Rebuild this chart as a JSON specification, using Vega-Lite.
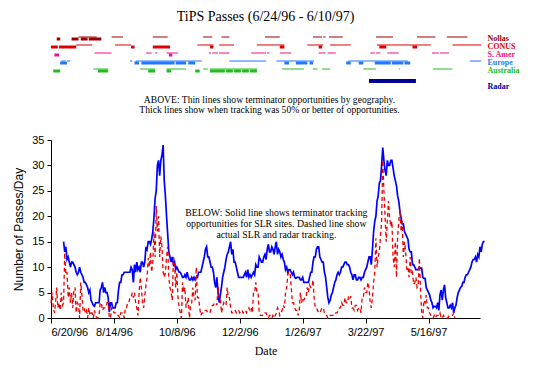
{
"$schema":"https://vega.github.io/schema/vega-lite/v6.json",
"background":"white",
"padding":{"left":12,"top":10,"right":4,"bottom":4},
"bounds":"flush",
"spacing":38,
"resolve":{"scale":{"x":"independent","y":"independent","color":"independent"}},
"config":{
 "view":{"stroke":null},
 "axis":{"grid":false,"domainColor":"#000","tickColor":"#000","titleColor":"#000","labelFont":"Liberation Sans","labelFontSize":11,"titleFont":"Liberation Sans","titleFontSize":12,"titleFontWeight":"normal","domainWidth":1,"tickWidth":1},
 "axisX":{"tickSize":5,"labelPadding":3,"titleFont":"Liberation Serif","titleFontSize":12,"titlePadding":8,"labelColor":"#000"},
 "axisY":{"tickSize":4,"labelPadding":3,"titlePadding":6}
},
"datasets":{
"passes":[
{"row":"Nollas","kind":"thin","start":"1996-07-14","end":"1996-07-30"},
{"row":"Nollas","kind":"thick","start":"1996-06-25","end":"1996-06-28"},
{"row":"Nollas","kind":"thick","start":"1996-07-08","end":"1996-07-14"},
{"row":"Nollas","kind":"thick","start":"1996-07-16","end":"1996-07-22"},
{"row":"Nollas","kind":"thick","start":"1996-07-23","end":"1996-08-03"},
{"row":"Nollas","kind":"thin","start":"1996-08-12","end":"1996-08-22"},
{"row":"Nollas","kind":"thin","start":"1996-09-17","end":"1996-09-30"},
{"row":"Nollas","kind":"thin","start":"1996-10-31","end":"1996-11-08"},
{"row":"Nollas","kind":"thin","start":"1996-11-16","end":"1996-11-23"},
{"row":"Nollas","kind":"thin","start":"1996-12-24","end":"1997-01-06"},
{"row":"Nollas","kind":"thin","start":"1997-02-04","end":"1997-02-12"},
{"row":"Nollas","kind":"thin","start":"1997-02-13","end":"1997-02-15"},
{"row":"Nollas","kind":"thin","start":"1997-02-18","end":"1997-03-02"},
{"row":"Nollas","kind":"thin","start":"1997-03-31","end":"1997-04-15"},
{"row":"Nollas","kind":"thin","start":"1997-05-06","end":"1997-05-22"},
{"row":"Nollas","kind":"thin","start":"1997-06-01","end":"1997-06-19"},
{"row":"CONUS","kind":"thick","start":"1996-06-20","end":"1996-06-26"},
{"row":"CONUS","kind":"thick","start":"1996-06-27","end":"1996-07-12"},
{"row":"CONUS","kind":"thin","start":"1996-07-12","end":"1996-07-26"},
{"row":"CONUS","kind":"thin","start":"1996-08-15","end":"1996-08-29"},
{"row":"CONUS","kind":"thick","start":"1996-08-29","end":"1996-09-01"},
{"row":"CONUS","kind":"thick","start":"1996-09-17","end":"1996-10-02"},
{"row":"CONUS","kind":"thin","start":"1996-10-26","end":"1996-11-09"},
{"row":"CONUS","kind":"thick","start":"1996-11-06","end":"1996-11-09"},
{"row":"CONUS","kind":"thin","start":"1996-11-14","end":"1996-11-27"},
{"row":"CONUS","kind":"thin","start":"1996-12-17","end":"1997-01-10"},
{"row":"CONUS","kind":"thick","start":"1997-01-06","end":"1997-01-10"},
{"row":"CONUS","kind":"thin","start":"1997-01-30","end":"1997-02-13"},
{"row":"CONUS","kind":"thick","start":"1997-02-09","end":"1997-02-12"},
{"row":"CONUS","kind":"thin","start":"1997-02-19","end":"1997-03-09"},
{"row":"CONUS","kind":"thin","start":"1997-04-01","end":"1997-05-18"},
{"row":"CONUS","kind":"thick","start":"1997-04-03","end":"1997-04-09"},
{"row":"CONUS","kind":"thick","start":"1997-05-02","end":"1997-05-06"},
{"row":"CONUS","kind":"thin","start":"1997-06-06","end":"1997-07-01"},
{"row":"S. Amer","kind":"thick","start":"1996-06-23","end":"1996-06-27"},
{"row":"S. Amer","kind":"thin","start":"1996-07-28","end":"1996-08-12"},
{"row":"S. Amer","kind":"thin","start":"1996-09-11","end":"1996-09-16"},
{"row":"S. Amer","kind":"thin","start":"1996-09-19","end":"1996-09-21"},
{"row":"S. Amer","kind":"thin","start":"1996-09-29","end":"1996-10-09"},
{"row":"S. Amer","kind":"thick","start":"1996-10-01","end":"1996-10-04"},
{"row":"S. Amer","kind":"thin","start":"1996-11-05","end":"1996-11-07"},
{"row":"S. Amer","kind":"thin","start":"1996-11-08","end":"1996-11-13"},
{"row":"S. Amer","kind":"thin","start":"1996-11-14","end":"1996-11-23"},
{"row":"S. Amer","kind":"thin","start":"1996-12-12","end":"1996-12-25"},
{"row":"S. Amer","kind":"thin","start":"1996-12-26","end":"1996-12-28"},
{"row":"S. Amer","kind":"thin","start":"1997-01-06","end":"1997-01-16"},
{"row":"S. Amer","kind":"thin","start":"1997-02-09","end":"1997-02-15"},
{"row":"S. Amer","kind":"thin","start":"1997-02-17","end":"1997-02-24"},
{"row":"S. Amer","kind":"thin","start":"1997-03-26","end":"1997-03-30"},
{"row":"S. Amer","kind":"thin","start":"1997-03-31","end":"1997-04-04"},
{"row":"S. Amer","kind":"thin","start":"1997-04-10","end":"1997-04-20"},
{"row":"S. Amer","kind":"thin","start":"1997-05-19","end":"1997-05-25"},
{"row":"S. Amer","kind":"thin","start":"1997-05-26","end":"1997-06-03"},
{"row":"Europe","kind":"thin","start":"1996-06-29","end":"1996-07-03"},
{"row":"Europe","kind":"thin","start":"1996-07-04","end":"1996-07-07"},
{"row":"Europe","kind":"thin","start":"1996-08-28","end":"1996-08-30"},
{"row":"Europe","kind":"thin","start":"1996-09-02","end":"1996-10-30"},
{"row":"Europe","kind":"thin","start":"1996-11-23","end":"1996-12-25"},
{"row":"Europe","kind":"thin","start":"1997-01-03","end":"1997-02-05"},
{"row":"Europe","kind":"thin","start":"1997-03-07","end":"1997-04-28"},
{"row":"Europe","kind":"thin","start":"1997-06-21","end":"1997-07-01"},
{"row":"Europe","kind":"thick","start":"1996-06-28","end":"1996-07-04"},
{"row":"Europe","kind":"thick","start":"1996-09-01","end":"1996-09-05"},
{"row":"Europe","kind":"thick","start":"1996-09-07","end":"1996-10-06"},
{"row":"Europe","kind":"thick","start":"1996-10-07","end":"1996-10-16"},
{"row":"Europe","kind":"thick","start":"1996-10-18","end":"1996-10-24"},
{"row":"Europe","kind":"thick","start":"1997-01-10","end":"1997-01-14"},
{"row":"Europe","kind":"thick","start":"1997-01-20","end":"1997-01-30"},
{"row":"Europe","kind":"thick","start":"1997-02-01","end":"1997-02-04"},
{"row":"Europe","kind":"thick","start":"1997-03-05","end":"1997-03-09"},
{"row":"Europe","kind":"thick","start":"1997-03-16","end":"1997-03-20"},
{"row":"Europe","kind":"thick","start":"1997-03-30","end":"1997-04-13"},
{"row":"Europe","kind":"thick","start":"1997-04-14","end":"1997-04-24"},
{"row":"Europe","kind":"thick","start":"1997-04-25","end":"1997-04-30"},
{"row":"Australia","kind":"thick","start":"1996-06-22","end":"1996-06-28"},
{"row":"Australia","kind":"thin","start":"1996-07-27","end":"1996-08-09"},
{"row":"Australia","kind":"thick","start":"1996-07-31","end":"1996-08-09"},
{"row":"Australia","kind":"thin","start":"1996-09-06","end":"1996-09-19"},
{"row":"Australia","kind":"thick","start":"1996-09-13","end":"1996-09-19"},
{"row":"Australia","kind":"thin","start":"1996-09-29","end":"1996-10-16"},
{"row":"Australia","kind":"thick","start":"1996-09-29","end":"1996-10-03"},
{"row":"Australia","kind":"thick","start":"1996-10-24","end":"1996-10-28"},
{"row":"Australia","kind":"thin","start":"1996-10-31","end":"1996-11-04"},
{"row":"Australia","kind":"thin","start":"1996-11-06","end":"1996-12-17"},
{"row":"Australia","kind":"thick","start":"1996-11-06","end":"1996-11-19"},
{"row":"Australia","kind":"thick","start":"1996-11-20","end":"1996-11-26"},
{"row":"Australia","kind":"thick","start":"1996-11-27","end":"1996-12-03"},
{"row":"Australia","kind":"thick","start":"1996-12-04","end":"1996-12-10"},
{"row":"Australia","kind":"thick","start":"1996-12-11","end":"1996-12-17"},
{"row":"Australia","kind":"thin","start":"1997-01-08","end":"1997-01-27"},
{"row":"Australia","kind":"thin","start":"1997-02-04","end":"1997-02-08"},
{"row":"Australia","kind":"thin","start":"1997-02-12","end":"1997-02-19"},
{"row":"Australia","kind":"thin","start":"1997-03-20","end":"1997-03-31"},
{"row":"Australia","kind":"thin","start":"1997-04-20","end":"1997-04-21"},
{"row":"Australia","kind":"thin","start":"1997-05-20","end":"1997-06-06"},
{"row":"Radar","kind":"thick","start":"1997-03-25","end":"1997-05-05"}
],
"daily":[
{"date":"1996-06-20","trk":3},{"date":"1996-06-21","trk":5},{"date":"1996-06-22","trk":2},{"date":"1996-06-23","trk":1},{"date":"1996-06-24","trk":3},{"date":"1996-06-25","trk":6},{"date":"1996-06-26","trk":2},{"date":"1996-06-27","trk":3},{"date":"1996-06-28","trk":1.5},{"date":"1996-06-29","trk":5},{"date":"1996-06-30","trk":2.5},
{"date":"1996-07-01","opp":15,"trk":3},{"date":"1996-07-02","opp":13,"trk":12.8},{"date":"1996-07-03","opp":14,"trk":8.5},{"date":"1996-07-04","opp":11.5,"trk":9},{"date":"1996-07-05","opp":12,"trk":4},{"date":"1996-07-06","opp":11,"trk":6},{"date":"1996-07-07","opp":10,"trk":3},{"date":"1996-07-08","opp":11,"trk":5},{"date":"1996-07-09","opp":11,"trk":2},{"date":"1996-07-10","opp":10.5,"trk":5.5},{"date":"1996-07-11","opp":10,"trk":6},{"date":"1996-07-12","opp":9,"trk":1},{"date":"1996-07-13","opp":8.5,"trk":3},{"date":"1996-07-14","opp":9,"trk":2.5},{"date":"1996-07-15","opp":10,"trk":0},{"date":"1996-07-16","opp":9,"trk":7},{"date":"1996-07-17","opp":8.5,"trk":4.5},{"date":"1996-07-18","opp":8,"trk":1.5},{"date":"1996-07-19","opp":7,"trk":2},{"date":"1996-07-20","opp":7,"trk":1},{"date":"1996-07-21","opp":6.5,"trk":1.5},{"date":"1996-07-22","opp":6,"trk":0},{"date":"1996-07-23","opp":5,"trk":2},{"date":"1996-07-24","opp":5.5,"trk":0.5},{"date":"1996-07-25","opp":3.5,"trk":1},{"date":"1996-07-26","opp":3,"trk":1},{"date":"1996-07-27","opp":2.5,"trk":0},{"date":"1996-07-28","opp":2.3,"trk":1.5},{"date":"1996-07-29","opp":3,"trk":0.5},{"date":"1996-07-30","opp":3,"trk":0},{"date":"1996-07-31","opp":3,"trk":0},
{"date":"1996-08-01","opp":3,"trk":0.5},{"date":"1996-08-02","opp":5.5,"trk":3},{"date":"1996-08-03","opp":6,"trk":3},{"date":"1996-08-04","opp":7,"trk":1.5},{"date":"1996-08-05","opp":5,"trk":2},{"date":"1996-08-06","opp":6,"trk":2},{"date":"1996-08-07","opp":5,"trk":2},{"date":"1996-08-08","opp":5,"trk":3},{"date":"1996-08-09","opp":4,"trk":3},{"date":"1996-08-10","opp":1.2,"trk":0},{"date":"1996-08-11","opp":3,"trk":0},{"date":"1996-08-12","opp":3,"trk":2},{"date":"1996-08-13","opp":2,"trk":2},{"date":"1996-08-14","opp":2,"trk":1},{"date":"1996-08-15","opp":2,"trk":1},{"date":"1996-08-16","opp":3,"trk":1},{"date":"1996-08-17","opp":3,"trk":0.5},{"date":"1996-08-18","opp":5.5,"trk":0.5},{"date":"1996-08-19","opp":7,"trk":0},{"date":"1996-08-20","opp":7,"trk":1},{"date":"1996-08-21","opp":8.5,"trk":1},{"date":"1996-08-22","opp":8.5,"trk":1},{"date":"1996-08-23","opp":9,"trk":0},{"date":"1996-08-24","opp":9,"trk":2},{"date":"1996-08-25","opp":9,"trk":2},{"date":"1996-08-26","opp":9,"trk":3},{"date":"1996-08-27","opp":9,"trk":3},{"date":"1996-08-28","opp":9,"trk":4},{"date":"1996-08-29","opp":10,"trk":4},{"date":"1996-08-30","opp":9.5,"trk":5},{"date":"1996-08-31","opp":7,"trk":4},
{"date":"1996-09-01","opp":10.5,"trk":5},{"date":"1996-09-02","opp":9,"trk":3},{"date":"1996-09-03","opp":11,"trk":2},{"date":"1996-09-04","opp":9.5,"trk":0.5},{"date":"1996-09-05","opp":10,"trk":5},{"date":"1996-09-06","opp":9,"trk":8},{"date":"1996-09-07","opp":11,"trk":6},{"date":"1996-09-08","opp":11,"trk":3},{"date":"1996-09-09","opp":10,"trk":2},{"date":"1996-09-10","opp":11,"trk":4.5},{"date":"1996-09-11","opp":14,"trk":6.5},{"date":"1996-09-12","opp":13.5,"trk":8},{"date":"1996-09-13","opp":15,"trk":11.8},{"date":"1996-09-14","opp":15,"trk":10},{"date":"1996-09-15","opp":14.5,"trk":13},{"date":"1996-09-16","opp":15.5,"trk":9},{"date":"1996-09-17","opp":17,"trk":11},{"date":"1996-09-18","opp":19.7,"trk":17},{"date":"1996-09-19","opp":23.5,"trk":12},{"date":"1996-09-20","opp":25,"trk":22},{"date":"1996-09-21","opp":30,"trk":17},{"date":"1996-09-22","opp":31,"trk":20},{"date":"1996-09-23","opp":28,"trk":12},{"date":"1996-09-24","opp":31,"trk":16},{"date":"1996-09-25","opp":32,"trk":14},{"date":"1996-09-26","opp":34,"trk":9},{"date":"1996-09-27","opp":27,"trk":8},{"date":"1996-09-28","opp":24,"trk":9},{"date":"1996-09-29","opp":20,"trk":12},{"date":"1996-09-30","opp":16.5,"trk":14},
{"date":"1996-10-01","opp":13,"trk":8},{"date":"1996-10-02","opp":12,"trk":6},{"date":"1996-10-03","opp":11,"trk":5},{"date":"1996-10-04","opp":12,"trk":3.5},{"date":"1996-10-05","opp":10.5,"trk":12},{"date":"1996-10-06","opp":11,"trk":11},{"date":"1996-10-07","opp":9.5,"trk":6},{"date":"1996-10-08","opp":10,"trk":9},{"date":"1996-10-09","opp":9.5,"trk":4},{"date":"1996-10-10","opp":9,"trk":2},{"date":"1996-10-11","opp":9,"trk":1},{"date":"1996-10-12","opp":8.5,"trk":0},{"date":"1996-10-13","opp":8,"trk":7},{"date":"1996-10-14","opp":8,"trk":5},{"date":"1996-10-15","opp":8.5,"trk":6},{"date":"1996-10-16","opp":8,"trk":2},{"date":"1996-10-17","opp":9,"trk":3},{"date":"1996-10-18","opp":8,"trk":4},{"date":"1996-10-19","opp":7.5,"trk":0},{"date":"1996-10-20","opp":7.5,"trk":2.5},{"date":"1996-10-21","opp":8,"trk":3},{"date":"1996-10-22","opp":7.5,"trk":6},{"date":"1996-10-23","opp":8,"trk":4},{"date":"1996-10-24","opp":7.5,"trk":3.5},{"date":"1996-10-25","opp":8,"trk":10},{"date":"1996-10-26","opp":8,"trk":4},{"date":"1996-10-27","opp":9,"trk":4},{"date":"1996-10-28","opp":9,"trk":2},{"date":"1996-10-29","opp":9,"trk":0.5},{"date":"1996-10-30","opp":10,"trk":1},{"date":"1996-10-31","opp":11,"trk":1},
{"date":"1996-11-01","opp":12,"trk":1.5},{"date":"1996-11-02","opp":13.5,"trk":1.5},{"date":"1996-11-03","opp":14,"trk":1.5},{"date":"1996-11-04","opp":12,"trk":1},{"date":"1996-11-05","opp":12,"trk":1},{"date":"1996-11-06","opp":11,"trk":1},{"date":"1996-11-07","opp":10,"trk":2},{"date":"1996-11-08","opp":10,"trk":2.5},{"date":"1996-11-09","opp":9,"trk":2.5},{"date":"1996-11-10","opp":7,"trk":3},{"date":"1996-11-11","opp":6,"trk":3},{"date":"1996-11-12","opp":8,"trk":2.5},{"date":"1996-11-13","opp":5,"trk":6.2},{"date":"1996-11-14","opp":3,"trk":4},{"date":"1996-11-15","opp":4.5,"trk":4},{"date":"1996-11-16","opp":6,"trk":1},{"date":"1996-11-17","opp":8,"trk":2},{"date":"1996-11-18","opp":9,"trk":3},{"date":"1996-11-19","opp":10,"trk":2.5},{"date":"1996-11-20","opp":11.5,"trk":2.5},{"date":"1996-11-21","opp":12.5,"trk":6},{"date":"1996-11-22","opp":13,"trk":4},{"date":"1996-11-23","opp":14,"trk":4},{"date":"1996-11-24","opp":15,"trk":2},{"date":"1996-11-25","opp":12.5,"trk":1},{"date":"1996-11-26","opp":13.5,"trk":1},{"date":"1996-11-27","opp":11,"trk":1.5},{"date":"1996-11-28","opp":11,"trk":1.5},{"date":"1996-11-29","opp":10,"trk":1},{"date":"1996-11-30","opp":9,"trk":1.5},
{"date":"1996-12-01","opp":8,"trk":1.5},{"date":"1996-12-02","opp":8,"trk":1},{"date":"1996-12-03","opp":8,"trk":1.5},{"date":"1996-12-04","opp":8,"trk":1.5},{"date":"1996-12-05","opp":8,"trk":1},{"date":"1996-12-06","opp":8.5,"trk":1.5},{"date":"1996-12-07","opp":9,"trk":1.5},{"date":"1996-12-08","opp":8,"trk":1},{"date":"1996-12-09","opp":9.5,"trk":1.5},{"date":"1996-12-10","opp":8,"trk":2},{"date":"1996-12-11","opp":8.5,"trk":1.5},{"date":"1996-12-12","opp":8,"trk":2},{"date":"1996-12-13","opp":8.5,"trk":1},{"date":"1996-12-14","opp":9,"trk":5},{"date":"1996-12-15","opp":8.5,"trk":5},{"date":"1996-12-16","opp":10.5,"trk":7},{"date":"1996-12-17","opp":10,"trk":5},{"date":"1996-12-18","opp":10,"trk":5},{"date":"1996-12-19","opp":12,"trk":1},{"date":"1996-12-20","opp":11.5,"trk":0.5},{"date":"1996-12-21","opp":11,"trk":0.5},{"date":"1996-12-22","opp":11,"trk":0.5},{"date":"1996-12-23","opp":12,"trk":0.5},{"date":"1996-12-24","opp":12.5,"trk":1},{"date":"1996-12-25","opp":11.5,"trk":1},{"date":"1996-12-26","opp":13.5,"trk":0.5},{"date":"1996-12-27","opp":14.5,"trk":0},{"date":"1996-12-28","opp":13,"trk":0.5},{"date":"1996-12-29","opp":13,"trk":0.5},{"date":"1996-12-30","opp":14,"trk":0},{"date":"1996-12-31","opp":13.5,"trk":0.5},
{"date":"1997-01-01","opp":12.5,"trk":0},{"date":"1997-01-02","opp":14,"trk":0.5},{"date":"1997-01-03","opp":15,"trk":1},{"date":"1997-01-04","opp":12.5,"trk":2},{"date":"1997-01-05","opp":13.5,"trk":1.5},{"date":"1997-01-06","opp":13,"trk":0.5},{"date":"1997-01-07","opp":12,"trk":1},{"date":"1997-01-08","opp":12.5,"trk":1.5},{"date":"1997-01-09","opp":11.5,"trk":2.5},{"date":"1997-01-10","opp":11,"trk":2},{"date":"1997-01-11","opp":9.5,"trk":5},{"date":"1997-01-12","opp":10,"trk":6},{"date":"1997-01-13","opp":9,"trk":8.5},{"date":"1997-01-14","opp":9.5,"trk":9},{"date":"1997-01-15","opp":9.5,"trk":9},{"date":"1997-01-16","opp":9,"trk":6},{"date":"1997-01-17","opp":8.5,"trk":3},{"date":"1997-01-18","opp":9,"trk":3},{"date":"1997-01-19","opp":8,"trk":2},{"date":"1997-01-20","opp":7.8,"trk":1.5},{"date":"1997-01-21","opp":8,"trk":1.5},{"date":"1997-01-22","opp":8,"trk":0.5},{"date":"1997-01-23","opp":8,"trk":1.5},{"date":"1997-01-24","opp":7.5,"trk":5},{"date":"1997-01-25","opp":7.5,"trk":3},{"date":"1997-01-26","opp":8,"trk":4},{"date":"1997-01-27","opp":7,"trk":3.5},{"date":"1997-01-28","opp":7,"trk":4},{"date":"1997-01-29","opp":7,"trk":4},{"date":"1997-01-30","opp":7,"trk":6},{"date":"1997-01-31","opp":7,"trk":5},
{"date":"1997-02-01","opp":8,"trk":6.5},{"date":"1997-02-02","opp":9,"trk":6},{"date":"1997-02-03","opp":9,"trk":6},{"date":"1997-02-04","opp":11,"trk":7.5},{"date":"1997-02-05","opp":12,"trk":4},{"date":"1997-02-06","opp":12,"trk":2},{"date":"1997-02-07","opp":13.5,"trk":2},{"date":"1997-02-08","opp":14,"trk":1.5},{"date":"1997-02-09","opp":14,"trk":1},{"date":"1997-02-10","opp":12,"trk":1},{"date":"1997-02-11","opp":11.5,"trk":1.5},{"date":"1997-02-12","opp":11,"trk":2},{"date":"1997-02-13","opp":11,"trk":2},{"date":"1997-02-14","opp":9,"trk":1},{"date":"1997-02-15","opp":8,"trk":0.5},{"date":"1997-02-16","opp":6,"trk":0.5},{"date":"1997-02-17","opp":4,"trk":0},{"date":"1997-02-18","opp":3,"trk":0},{"date":"1997-02-19","opp":3.5,"trk":0.5},{"date":"1997-02-20","opp":4.5,"trk":0.5},{"date":"1997-02-21","opp":5,"trk":0.5},{"date":"1997-02-22","opp":6,"trk":0.5},{"date":"1997-02-23","opp":7,"trk":0.5},{"date":"1997-02-24","opp":7.5,"trk":1},{"date":"1997-02-25","opp":8.5,"trk":1},{"date":"1997-02-26","opp":9,"trk":1.5},{"date":"1997-02-27","opp":8.5,"trk":2},{"date":"1997-02-28","opp":9,"trk":2},
{"date":"1997-03-01","opp":10,"trk":3},{"date":"1997-03-02","opp":10,"trk":2.5},{"date":"1997-03-03","opp":10.5,"trk":2.5},{"date":"1997-03-04","opp":11,"trk":4},{"date":"1997-03-05","opp":11,"trk":3},{"date":"1997-03-06","opp":10.5,"trk":3},{"date":"1997-03-07","opp":10.5,"trk":4},{"date":"1997-03-08","opp":10,"trk":3.5},{"date":"1997-03-09","opp":9,"trk":4.3},{"date":"1997-03-10","opp":8.5,"trk":2},{"date":"1997-03-11","opp":7.5,"trk":2},{"date":"1997-03-12","opp":8.5,"trk":1.5},{"date":"1997-03-13","opp":8.5,"trk":2.5},{"date":"1997-03-14","opp":7.5,"trk":2.5},{"date":"1997-03-15","opp":7.5,"trk":1.5},{"date":"1997-03-16","opp":8,"trk":2},{"date":"1997-03-17","opp":8,"trk":2},{"date":"1997-03-18","opp":7.5,"trk":1},{"date":"1997-03-19","opp":8,"trk":4},{"date":"1997-03-20","opp":8,"trk":4},{"date":"1997-03-21","opp":9,"trk":6},{"date":"1997-03-22","opp":9.5,"trk":5},{"date":"1997-03-23","opp":10,"trk":5},{"date":"1997-03-24","opp":11,"trk":7},{"date":"1997-03-25","opp":12,"trk":6},{"date":"1997-03-26","opp":12,"trk":3},{"date":"1997-03-27","opp":10.5,"trk":2},{"date":"1997-03-28","opp":13.5,"trk":4},{"date":"1997-03-29","opp":17,"trk":7},{"date":"1997-03-30","opp":19,"trk":9},{"date":"1997-03-31","opp":20,"trk":15.7},
{"date":"1997-04-01","opp":23,"trk":10},{"date":"1997-04-02","opp":24,"trk":12},{"date":"1997-04-03","opp":26.5,"trk":13},{"date":"1997-04-04","opp":27,"trk":16},{"date":"1997-04-05","opp":30,"trk":19},{"date":"1997-04-06","opp":33.5,"trk":31},{"date":"1997-04-07","opp":31,"trk":25},{"date":"1997-04-08","opp":29,"trk":20},{"date":"1997-04-09","opp":28,"trk":15},{"date":"1997-04-10","opp":31,"trk":19},{"date":"1997-04-11","opp":30,"trk":23},{"date":"1997-04-12","opp":30,"trk":19.7},{"date":"1997-04-13","opp":31,"trk":18},{"date":"1997-04-14","opp":31,"trk":19},{"date":"1997-04-15","opp":29.5,"trk":12},{"date":"1997-04-16","opp":28,"trk":10},{"date":"1997-04-17","opp":27,"trk":15},{"date":"1997-04-18","opp":26,"trk":8},{"date":"1997-04-19","opp":24,"trk":16},{"date":"1997-04-20","opp":23,"trk":19},{"date":"1997-04-21","opp":21,"trk":21.3},{"date":"1997-04-22","opp":19.7,"trk":17},{"date":"1997-04-23","opp":18.5,"trk":19},{"date":"1997-04-24","opp":18.5,"trk":12},{"date":"1997-04-25","opp":17,"trk":15},{"date":"1997-04-26","opp":16.5,"trk":13},{"date":"1997-04-27","opp":16,"trk":9.5},{"date":"1997-04-28","opp":15.5,"trk":10},{"date":"1997-04-29","opp":13.5,"trk":8},{"date":"1997-04-30","opp":13,"trk":12},
{"date":"1997-05-01","opp":13,"trk":8.5},{"date":"1997-05-02","opp":10.5,"trk":9},{"date":"1997-05-03","opp":10.5,"trk":6.6},{"date":"1997-05-04","opp":10,"trk":7},{"date":"1997-05-05","opp":9.5,"trk":8},{"date":"1997-05-06","opp":9.5,"trk":6},{"date":"1997-05-07","opp":9.5,"trk":6.5},{"date":"1997-05-08","opp":10,"trk":11.8},{"date":"1997-05-09","opp":9.8,"trk":5.5},{"date":"1997-05-10","opp":9.8,"trk":1},{"date":"1997-05-11","opp":8,"trk":0},{"date":"1997-05-12","opp":7.8,"trk":3.5},{"date":"1997-05-13","opp":7.8,"trk":3},{"date":"1997-05-14","opp":6,"trk":4.5},{"date":"1997-05-15","opp":5.5,"trk":2},{"date":"1997-05-16","opp":5,"trk":2},{"date":"1997-05-17","opp":4.5,"trk":1},{"date":"1997-05-18","opp":3.5,"trk":0.5},{"date":"1997-05-19","opp":3,"trk":0},{"date":"1997-05-20","opp":2,"trk":0},{"date":"1997-05-21","opp":2.3,"trk":0.5},{"date":"1997-05-22","opp":2.3,"trk":0},{"date":"1997-05-23","opp":2,"trk":0.5},{"date":"1997-05-24","opp":3,"trk":0.5},{"date":"1997-05-25","opp":1.5,"trk":0.5},{"date":"1997-05-26","opp":4.5,"trk":1},{"date":"1997-05-27","opp":5.5,"trk":0},{"date":"1997-05-28","opp":3.5,"trk":0},{"date":"1997-05-29","opp":5.5,"trk":0.5},{"date":"1997-05-30","opp":6.5,"trk":0},{"date":"1997-05-31","opp":4,"trk":0},
{"date":"1997-06-01","opp":3,"trk":0},{"date":"1997-06-02","opp":2,"trk":0},{"date":"1997-06-03","opp":2,"trk":0.5},{"date":"1997-06-04","opp":2.5,"trk":0.5},{"date":"1997-06-05","opp":2,"trk":0.5},{"date":"1997-06-06","opp":3,"trk":0.5},{"date":"1997-06-07","opp":1,"trk":1},{"date":"1997-06-08","opp":2,"trk":0},{"date":"1997-06-09","opp":2.5},{"date":"1997-06-10","opp":4},{"date":"1997-06-11","opp":5},{"date":"1997-06-12","opp":5.5},{"date":"1997-06-13","opp":6},{"date":"1997-06-14","opp":6.2},{"date":"1997-06-15","opp":7},{"date":"1997-06-16","opp":7},{"date":"1997-06-17","opp":8},{"date":"1997-06-18","opp":8.5},{"date":"1997-06-19","opp":8.5},{"date":"1997-06-20","opp":9},{"date":"1997-06-21","opp":9.5},{"date":"1997-06-22","opp":10},{"date":"1997-06-23","opp":11},{"date":"1997-06-24","opp":11.5},{"date":"1997-06-25","opp":11.5},{"date":"1997-06-26","opp":12},{"date":"1997-06-27","opp":11},{"date":"1997-06-28","opp":12.5},{"date":"1997-06-29","opp":12},{"date":"1997-06-30","opp":14},
{"date":"1997-07-01","opp":13},{"date":"1997-07-02","opp":14.5},{"date":"1997-07-03","opp":15},{"date":"1997-07-04","opp":15}
]
},
"vconcat":[
{
 "width":429,"height":64,
 "title":{"text":"TiPS Passes (6/24/96 - 6/10/97)","font":"Liberation Serif","fontSize":14,"fontWeight":"normal","anchor":"middle","frame":"group","offset":10,"color":"#000"},
 "data":{"name":"passes"},
 "encoding":{
  "x":{"field":"start","type":"temporal","scale":{"type":"utc","domain":[{"year":1996,"month":6,"date":20,"utc":true},{"year":1997,"month":6,"date":30,"utc":true}]},"axis":null},
  "y":{"field":"row","type":"ordinal","scale":{"type":"point","domain":["Nollas","CONUS","S. Amer","Europe","Australia","g1","Radar","g2","note"],"padding":0},
   "axis":{"orient":"right","domain":false,"ticks":false,"title":null,"labelFont":"Liberation Serif","labelFontWeight":"bold","labelFontSize":8,"labelPadding":7,"labelOverlap":false,"labelBound":false,
    "labelExpr":"indexof(['g1','g2','note'], datum.value) >= 0 ? '' : datum.value",
    "labelColor":{"condition":[{"test":"datum.value === 'Nollas'","value":"#990000"},{"test":"datum.value === 'CONUS'","value":"#e00000"},{"test":"datum.value === 'S. Amer'","value":"#ee1188"},{"test":"datum.value === 'Europe'","value":"#3377ee"},{"test":"datum.value === 'Australia'","value":"#22bb22"}],"value":"#000099"}}}
 },
 "layer":[
  {"transform":[{"filter":"datum.kind === 'thin'"}],
   "mark":{"type":"rule","strokeWidth":1,"yOffset":-1,"strokeCap":"butt"},
   "encoding":{"x2":{"field":"end"},
    "color":{"field":"row","type":"nominal","scale":{"domain":["Nollas","CONUS","S. Amer","Europe","Australia","Radar"],"range":["#990000","#e00000","#ee1188","#2277ff","#22bb22","#000099"]},"legend":null}}},
  {"transform":[{"filter":"datum.kind === 'thick' && datum.row !== 'Radar'"}],
   "mark":{"type":"rule","strokeWidth":3,"yOffset":1,"strokeCap":"butt"},
   "encoding":{"x2":{"field":"end"},
    "color":{"field":"row","type":"nominal","scale":{"domain":["Nollas","CONUS","S. Amer","Europe","Australia"],"range":["#990000","#e00000","#ee1188","#0aa0e0","#22bb22"]},"legend":null}}},
  {"transform":[{"filter":"datum.row === 'Radar'"}],
   "mark":{"type":"rule","strokeWidth":4,"yOffset":-5,"strokeCap":"butt","color":"#000099"},
   "encoding":{"x2":{"field":"end"}}},
  {"data":{"values":[{"row":"note","start":"1996-12-28","label":"ABOVE:   Thin lines show terminator opportunities by geography.\nThick lines show when tracking was 50% or better of opportunities."}]},
   "mark":{"type":"text","font":"Liberation Serif","fontSize":9.6,"lineBreak":"\n","lineHeight":10,"align":"center","baseline":"middle","dy":-2,"color":"#000"},
   "encoding":{"text":{"field":"label"}}}
 ]
},
{
 "width":429,"height":178,
 "data":{"name":"daily"},
 "encoding":{
  "x":{"field":"date","type":"temporal","title":"Date","scale":{"type":"utc","domain":[{"year":1996,"month":6,"date":20,"utc":true},{"year":1997,"month":6,"date":30,"utc":true}]},
   "axis":{"values":[{"year":1996,"month":6,"date":20,"utc":true},{"year":1996,"month":8,"date":14,"utc":true},{"year":1996,"month":10,"date":8,"utc":true},{"year":1996,"month":12,"date":2,"utc":true},{"year":1997,"month":1,"date":26,"utc":true},{"year":1997,"month":3,"date":22,"utc":true},{"year":1997,"month":5,"date":16,"utc":true}],
    "labelExpr":"utcFormat(datum.value, '%-m/%-d/%y')","labelOverlap":false,"title":"Date"}}
 },
 "layer":[
  {"mark":{"type":"line","color":"#0000ff","strokeWidth":1.7},
   "encoding":{"y":{"field":"opp","type":"quantitative","scale":{"domain":[0,35],"nice":false},"axis":{"values":[0,5,10,15,20,25,30,35],"title":"Number of Passes/Day","labelColor":"#000"}}}},
  {"mark":{"type":"line","color":"#ee0000","strokeWidth":1.3,"strokeDash":[4,3]},
   "encoding":{"y":{"field":"trk","type":"quantitative","scale":{"domain":[0,35],"nice":false},"axis":{"values":[0,5,10,15,20,25,30,35],"title":"Number of Passes/Day","labelColor":"#000"}}}},
  {"data":{"values":[{"date":"1997-01-03","value":20.6,"note":"BELOW:  Solid line shows terminator tracking\nopportunities for SLR sites.  Dashed line show\nactual SLR and radar tracking."}]},
   "mark":{"type":"text","font":"Liberation Serif","fontSize":9.8,"lineBreak":"\n","lineHeight":10.7,"align":"center","baseline":"middle","color":"#000"},
   "encoding":{"y":{"field":"value","type":"quantitative","scale":{"domain":[0,35],"nice":false},"axis":{"values":[0,5,10,15,20,25,30,35],"title":"Number of Passes/Day","labelColor":"#000"}},"text":{"field":"note"}}}
 ]
}
]
}
